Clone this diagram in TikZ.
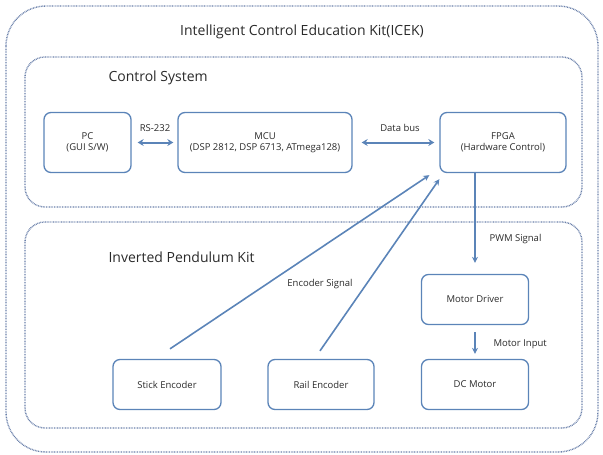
\documentclass[tikz,border=0pt]{standalone}
\usepackage{fontspec}
\setmainfont{Open Sans}
\usetikzlibrary{arrows.meta,calc}
\definecolor{boxblue}{HTML}{5B84B8}
\definecolor{dotblue}{HTML}{6A80AA}
\definecolor{txt}{HTML}{2A2A2A}
\tikzset{
  frame/.style={draw=dotblue, line width=1.4pt, dash pattern=on 0.8pt off 0.8pt},
  blk/.style={draw=boxblue, line width=1.3pt, rounded corners=7pt, text=txt,
    font=\fontsize{9.5}{11.5}\selectfont, align=center, inner sep=0pt},
  lbl/.style={text=txt, font=\fontsize{9.5}{11}\selectfont},
  head/.style={text=txt, font=\fontsize{14}{16}\selectfont},
  bi/.style={draw=boxblue, line width=2pt, {Stealth[length=6pt,width=7pt]}-{Stealth[length=6pt,width=7pt]}},
  uni/.style={draw=boxblue, line width=1.3pt, -{Stealth[length=6pt,width=6pt]}}
}
\begin{document}
\begin{tikzpicture}[x=1pt,y=-1pt]
\useasboundingbox (0,0) rectangle (603,455);
% frames
\draw[frame, rounded corners=40pt] (6,6) rectangle (598,452);
\draw[frame, rounded corners=20pt] (25,57) rectangle (582,207);
\draw[frame, rounded corners=20pt] (25,222) rectangle (582,428);
\node[head] (title) at (302,32) {Intelligent Control Education Kit(ICEK)};
\node[head, anchor=west] (cs) at (105,78) {Control System};
\node[head, anchor=west] (ipk) at (105,257) {Inverted Pendulum Kit};
% blocks
\node[blk, minimum width=87pt, minimum height=60pt] (pc) at (87.5,142.5) {PC\\(GUI S/W)};
\node[blk, minimum width=174pt, minimum height=60pt] (mcu) at (265,142.5) {MCU\\(DSP 2812, DSP 6713, ATmega128)};
\node[blk, minimum width=126pt, minimum height=60pt] (fpga) at (503,142.5) {FPGA\\(Hardware Control)};
\node[blk, minimum width=107pt, minimum height=50pt] (md) at (475,299.5) {Motor Driver};
\node[blk, minimum width=107pt, minimum height=50pt] (dc) at (475,384.5) {DC Motor};
\node[blk, minimum width=108pt, minimum height=50pt] (se) at (167,384.5) {Stick Encoder};
\node[blk, minimum width=106pt, minimum height=50pt] (re) at (321,384.5) {Rail Encoder};
% connectors
\draw[bi] ($(pc.east)+(6,0)$) -- ($(mcu.west)+(-4,0)$);
\node[lbl] (rs) at (155,128) {RS-232};
\draw[bi] ($(mcu.east)+(9,0)$) -- ($(fpga.west)+(-5,0)$);
\node[lbl] (db) at (400,128) {Data bus};
\draw[uni] (fpga.south -| md.north) -- ($(md.north)+(0,-11)$);
\node[lbl, anchor=west] (pwm) at (486,239) {PWM Signal};
\draw[uni] ($(md.south)+(0,7)$) -- ($(dc.north)+(0,-5)$);
\node[lbl, anchor=west] (mi) at (490,344) {Motor Input};
\draw[uni, line width=1.6pt] ($(se.north)+(3,-10)$) -- ($(fpga.south west)+(-10,2)$);
\draw[uni, line width=1.6pt] ($(re.north)+(-1,-8)$) -- ($(fpga.south west)+(0,6)$);
\node[lbl] (es) at (320,284) {Encoder Signal};
\end{tikzpicture}
\end{document}
